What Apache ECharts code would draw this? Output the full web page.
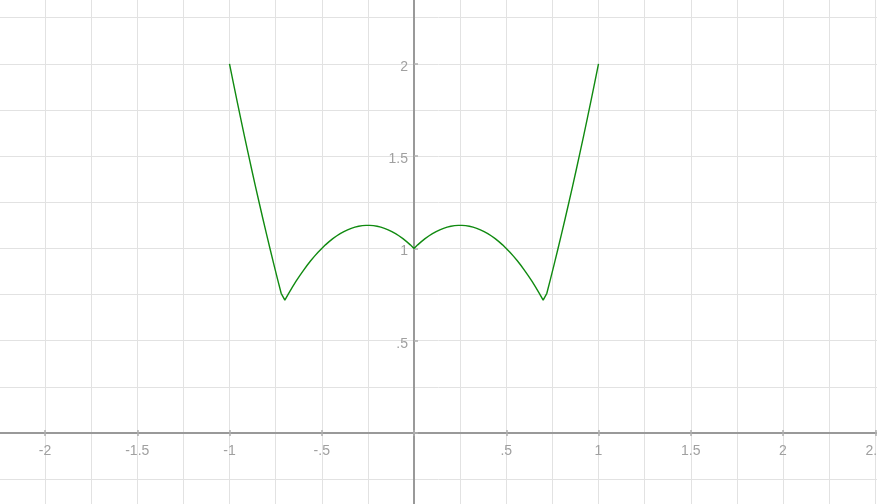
<!DOCTYPE html>
<html><head><meta charset="utf-8">
<script src="https://cdn.jsdelivr.net/npm/echarts@6/dist/echarts.min.js"></script>
<style>html,body{margin:0;padding:0;background:#fff;overflow:hidden}#c{width:877px;height:504px}</style>
</head><body><div id="c"></div>
<script>
const xValues = [-1,-0.98,-0.96,-0.94,-0.92,-0.9,-0.88,-0.86,-0.84,-0.82,-0.8,-0.78,-0.76,-0.74,-0.72,-0.7,-0.68,-0.66,-0.64,-0.62,-0.6,-0.58,-0.56,-0.54,-0.52,-0.5,-0.48,-0.46,-0.44,-0.42,-0.4,-0.38,-0.36,-0.34,-0.32,-0.3,-0.28,-0.26,-0.24,-0.22,-0.2,-0.18,-0.16,-0.14,-0.12,-0.1,-0.08,-0.06,-0.04,-0.02,0,0.02,0.04,0.06,0.08,0.1,0.12,0.14,0.16,0.18,0.2,0.22,0.24,0.26,0.28,0.3,0.32,0.34,0.36,0.38,0.4,0.42,0.44,0.46,0.48,0.5,0.52,0.54,0.56,0.58,0.6,0.62,0.64,0.66,0.68,0.7,0.72,0.74,0.76,0.78,0.8,0.82,0.84,0.86,0.88,0.9,0.92,0.94,0.96,0.98,1];
const yValues = [2,1.9008,1.8032,1.7072,1.6128,1.52,1.4288,1.3392,1.2512,1.1648,1.08,0.9968,0.9152,0.8352,0.7568,0.72,0.7552,0.7888,0.8208,0.8512,0.88,0.9072,0.9328,0.9568,0.9792,1.0,1.0192,1.0368,1.0528,1.0672,1.08,1.0912,1.1008,1.1088,1.1152,1.12,1.1232,1.1248,1.1248,1.1232,1.12,1.1152,1.1088,1.1008,1.0912,1.08,1.0672,1.0528,1.0368,1.0192,1,1.0192,1.0368,1.0528,1.0672,1.08,1.0912,1.1008,1.1088,1.1152,1.12,1.1232,1.1248,1.1248,1.1232,1.12,1.1152,1.1088,1.1008,1.0912,1.08,1.0672,1.0528,1.0368,1.0192,1.0,0.9792,0.9568,0.9328,0.9072,0.88,0.8512,0.8208,0.7888,0.7552,0.72,0.7568,0.8352,0.9152,0.9968,1.08,1.1648,1.2512,1.3392,1.4288,1.52,1.6128,1.7072,1.8032,1.9008,2];
const xTickValues = [-2,-1.5,-1,-0.5,0.5,1,1.5,2,2.5];
const xTickLabels = ['-2','-1.5','-1','-.5','.5','1','1.5','2','2.5'];
const yTickValues = [0.5,1,1.5,2];
const yTickLabels = ['.5','1','1.5','2'];

function lookup(vals, labels, v){
  for (let i=0;i<vals.length;i++){ if (Math.abs(vals[i]-v)<1e-6) return labels[i]; }
  return '';
}
const pts = xValues.map((x,i)=>[x,yValues[i]]);
const gridCol = '#e2e2e2', axisCol = '#999999', tickCol = '#b0b0b0', labelCol = '#a0a0a0';
const font = '"Liberation Sans", Arial, sans-serif';
const XMIN=-2.5, XMAX=3, YMIN=-0.5, YMAX=2.5;
const GL=-47.25, GW=1014.75, GT=-28.5, GH=553.8;

const chart = echarts.init(document.getElementById('c'), null, {renderer:'canvas'});
chart.setOption({
  animation:false,
  backgroundColor:'#ffffff',
  grid:[
    {left:GL, top:GT, width:GW, height:GH, containLabel:false, outerBoundsMode:'none'},
    {left:GL, top:0, width:GW, height:433, containLabel:false, outerBoundsMode:'none'},
    {left:414, top:GT, width:463, height:GH, containLabel:false, outerBoundsMode:'none'}
  ],
  xAxis:[{
    gridIndex:0, type:'value', min:XMIN, max:XMAX, interval:0.5,
    axisLine:{show:false}, axisTick:{show:false}, axisLabel:{show:false},
    splitLine:{show:true, lineStyle:{color:gridCol, width:1}},
    minorTick:{show:false, splitNumber:2},
    minorSplitLine:{show:true, lineStyle:{color:gridCol, width:1}}
  },{
    gridIndex:1, type:'value', min:XMIN, max:XMAX, interval:0.5, position:'bottom',
    axisLine:{show:true, onZero:false, lineStyle:{color:axisCol, width:2}},
    axisTick:{show:true, inside:false, length:3, lineStyle:{color:tickCol, width:1.5}},
    axisLabel:{show:true, margin:11, color:labelCol, fontSize:14, fontFamily:font,
      formatter:v=>lookup(xTickValues,xTickLabels,v)},
    splitLine:{show:false}, z:5
  },{
    gridIndex:1, type:'value', min:XMIN, max:XMAX, interval:0.5, position:'bottom',
    axisLine:{show:false, onZero:false},
    axisTick:{show:true, inside:true, length:3, lineStyle:{color:tickCol, width:1.5}},
    axisLabel:{show:false}, splitLine:{show:false}, z:5
  },{
    gridIndex:2, type:'value', show:false, min:0, max:1
  }],
  yAxis:[{
    gridIndex:0, type:'value', min:YMIN, max:YMAX, interval:0.5,
    axisLine:{show:false}, axisTick:{show:false}, axisLabel:{show:false},
    splitLine:{show:true, lineStyle:{color:gridCol, width:1}},
    minorTick:{show:false, splitNumber:2},
    minorSplitLine:{show:true, lineStyle:{color:gridCol, width:1}}
  },{
    gridIndex:1, type:'value', show:false, min:0, max:1
  },{
    gridIndex:2, type:'value', min:YMIN, max:YMAX, interval:0.5, position:'left',
    axisLine:{show:true, onZero:false, lineStyle:{color:axisCol, width:2}},
    axisTick:{show:true, inside:true, length:4, lineStyle:{color:tickCol, width:1.5}},
    axisLabel:{show:true, margin:6, color:labelCol, fontSize:14, fontFamily:font,
      formatter:v=>{const s=lookup(yTickValues,yTickLabels,v); return s?'{t|'+s+'}':'';},
      rich:{t:{color:labelCol, fontSize:14, fontFamily:font, padding:[6,0,0,0]}}},
    splitLine:{show:false}, z:5
  }],
  series:[{
    type:'line', data:pts, xAxisIndex:0, yAxisIndex:0,
    showSymbol:false, symbol:'none', smooth:false,
    lineStyle:{color:'#108a10', width:1.4},
    z:10
  }]
});
</script>
</body></html>
